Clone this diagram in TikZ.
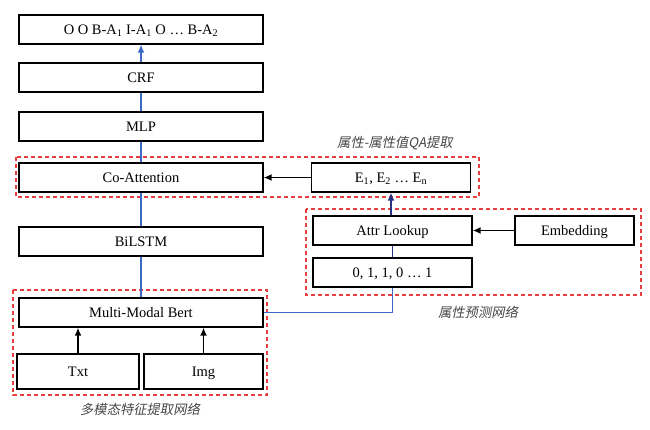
\documentclass[tikz,border=0pt]{standalone}
\usepackage{fontspec}
\setmainfont{Liberation Serif}
\newfontfamily\cjkit[FakeSlant=0.2]{Noto Sans CJK SC}
\usetikzlibrary{math,arrows.meta}

\definecolor{linkblue}{RGB}{60,105,200}
\definecolor{linknavy}{RGB}{40,50,130}
\definecolor{groupred}{RGB}{235,60,60}
\definecolor{notegray}{RGB}{70,70,70}

\begin{document}
\begin{tikzpicture}[x=1pt, y=-1pt,
    layer/.style={draw, line width=1.3pt, minimum height=29pt, inner sep=0pt,
      text height=9.6pt, text depth=0pt, font=\fontsize{14.5}{17}\selectfont},
    wide/.style={layer, minimum width=244pt},
    mid/.style={layer, minimum width=159pt},
    group/.style={draw=groupred, line width=1.1pt, dash pattern=on 4pt off 3pt},
    note/.style={font=\cjkit\fontsize{13.3}{16}\selectfont, text=notegray},
    feed/.style={draw=linkblue, line width=1.4pt},
    tip/.style={-{Latex[length=8pt,width=7pt]}}]
  \tikzmath{\lx = 141; \rx = 392.5;}

  \useasboundingbox (0, 0) rectangle (650, 429);

  % main column
  \node[wide] (tags) at (\lx, 29.5) {O O B-A\textsubscript{1} I-A\textsubscript{1} O \dots\ B-A\textsubscript{2}};
  \node[wide] (crf) at (\lx, 77.5) {CRF};
  \node[wide] (mlp) at (\lx, 126.5) {MLP};
  \node[wide] (coatt) at (\lx, 177.5) {Co-Attention};
  \node[wide] (bilstm) at (\lx, 241.5) {BiLSTM};
  \node[wide] (bert) at (\lx, 312.5) {Multi-Modal Bert};
  \node[layer, minimum width=122pt, minimum height=35pt] (txt) at (78, 371.5) {Txt};
  \node[layer, minimum width=119pt, minimum height=35pt] (img) at (203.5, 371.5) {Img};

  % attribute side
  \node[mid] (ents) at (391, 177.5) {E\textsubscript{1}, E\textsubscript{2} \dots\ E\textsubscript{n}};
  \node[mid] (lookup) at (\rx, 230.5) {Attr Lookup};
  \node[mid] (bits) at (\rx, 272.5) {0, 1, 1, 0 \dots\ 1};
  \node[layer, minimum width=119pt] (embed) at (574.5, 230.5) {Embedding};

  % groups
  \draw[group] (16, 157) rectangle (479, 197);
  \draw[group] (13, 290) rectangle (267, 395);
  \draw[group] (306, 209) rectangle (641, 295);
  \node[note] (qanote) at (395, 143) {属性-属性值QA提取};
  \node[note] (mmnote) at (140, 409) {多模态特征提取网络};
  \node[note] (prednote) at (478, 312) {属性预测网络};

  % links
  \draw[feed] (bert) -- (bilstm);
  \draw[feed] (bilstm) -- (coatt);
  \draw[feed] (coatt) -- (mlp);
  \draw[feed] (mlp) -- (crf);
  \draw[feed, tip] (crf) -- (tags);
  \draw[feed] (bert.east) -| (bits.south);
  \draw[linknavy, line width=1.4pt] (bits) -- (lookup);
  \draw[linknavy, line width=1.4pt, tip] (lookup.north -| ents) -- (ents);
  \draw[line width=1.5pt, tip] (embed) -- (lookup);
  \draw[line width=1.5pt, tip] (ents) -- (coatt);
  \draw[line width=1.5pt, tip] (txt) -- (txt |- bert.south);
  \draw[line width=1.5pt, tip] (img) -- (img |- bert.south);
\end{tikzpicture}
\end{document}
